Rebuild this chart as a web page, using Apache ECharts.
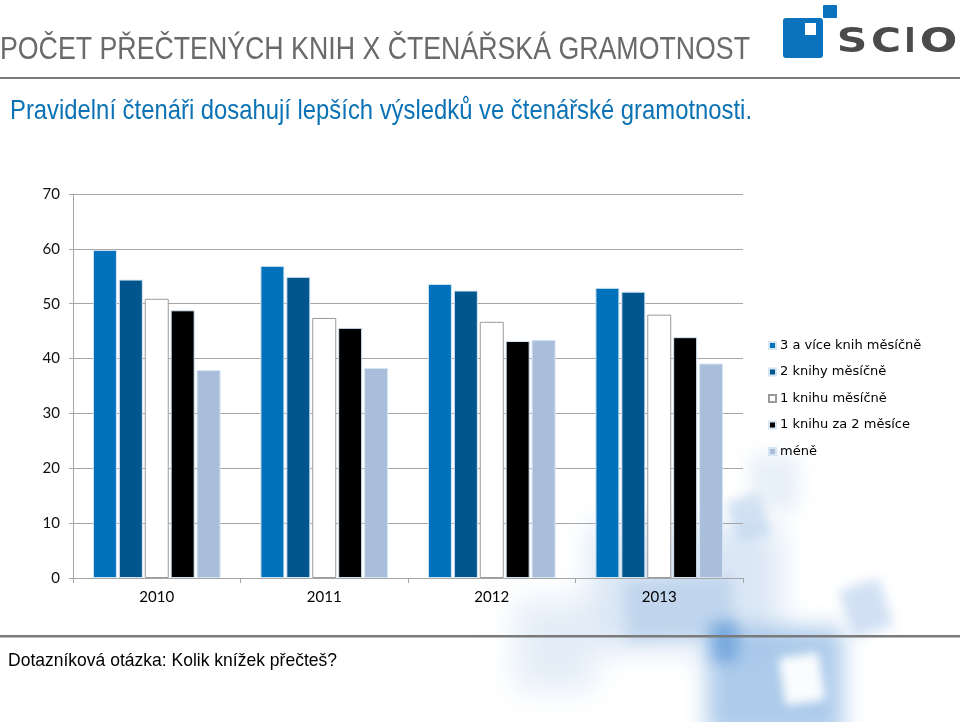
<!DOCTYPE html>
<html>
<head>
<meta charset="utf-8">
<script src="https://cdn.jsdelivr.net/npm/echarts@6/dist/echarts.min.js"></script>
<style>
html,body{margin:0;padding:0;background:#fff;}
#c{width:960px;height:722px;}
</style>
</head>
<body>
<div id="c"></div>
<script>
// ---- data ----
var years = ['2010', '2011', '2012', '2013'];
var seriesNames = ['3 a více knih měsíčně', '2 knihy měsíčně', '1 knihu měsíčně', '1 knihu za 2 měsíce', 'méně'];
var s3plus = [59.8, 56.9, 53.6, 52.9];
var s2 = [54.4, 54.9, 52.4, 52.2];
var s1 = [50.9, 47.4, 46.7, 48.0];
var sHalf = [48.8, 45.6, 43.2, 43.9];
var sLess = [37.9, 38.3, 43.4, 39.1];
var yTicks = [0, 10, 20, 30, 40, 50, 60, 70];

var titleText = 'POČET PŘEČTENÝCH KNIH X ČTENÁŘSKÁ GRAMOTNOST';
var subtitleText = 'Pravidelní čtenáři dosahují lepších výsledků ve čtenářské gramotnosti.';
var footerText = 'Dotazníková otázka: Kolik knížek přečteš?';

// ---- helpers ----
var mctx = document.createElement('canvas').getContext('2d');
function fitScale(text, font, width) {
  mctx.font = font;
  var w = mctx.measureText(text).width;
  return w > 0 ? width / w : 1;
}

var chart = echarts.init(document.getElementById('c'), null, {renderer: 'canvas'});

var colors = ['#0072bb', '#00568d', '#ffffff', '#000000', '#a9bedb'];
var borders = ['#d6e6f3', '#d6e6f3', '#9a9a9a', '#d6e6f3', '#d6e6f3'];
var dataSets = [s3plus, s2, s1, sHalf, sLess];

var series = dataSets.map(function (d, i) {
  return {
    name: seriesNames[i],
    type: 'bar',
    data: d,
    barWidth: 24,
    barGap: '8%',
    itemStyle: {color: colors[i], borderColor: borders[i], borderWidth: 1},
    emphasis: {disabled: true}
  };
});

var tFont = '31px "Liberation Sans", Arial, sans-serif';
var sFont = '28px "Liberation Sans", Arial, sans-serif';
var fFont = '19px "Liberation Sans", Arial, sans-serif';
var tScale = fitScale(titleText, tFont, 750);
var sScale = fitScale(subtitleText, sFont, 742);
var fScale = fitScale(footerText, fFont, 329);

// blurred soft shape: the shape itself is drawn off-canvas, only its blurred shadow shows
var OFF = 3000;
function soft(x, y, w, h, color, blur, rot) {
  return {
    type: 'rect', z: -10, silent: true,
    x: x + w / 2 - OFF, y: y + h / 2,
    rotation: rot || 0,
    shape: {x: -w / 2, y: -h / 2, width: w, height: h, r: 4},
    style: {fill: '#000', shadowBlur: blur, shadowColor: color, shadowOffsetX: OFF, shadowOffsetY: 0}
  };
}

var graphics = [
  // watermark shapes
  soft(515, 600, 80, 90, 'rgba(205,222,240,0.55)', 30),
  soft(590, 525, 190, 125, 'rgba(195,215,238,0.6)', 30),
  soft(625, 578, 108, 62, 'rgba(175,202,232,0.6)', 14, 0.05),
  soft(707, 627, 136, 110, 'rgba(145,185,228,0.75)', 22),
  soft(712, 622, 26, 40, 'rgba(90,150,215,0.6)', 14),
  soft(782, 655, 40, 48, 'rgba(255,255,255,0.95)', 10, 0.15),
  soft(732, 496, 34, 44, 'rgba(190,212,238,0.65)', 10, 0.3),
  soft(750, 455, 48, 55, 'rgba(210,225,242,0.5)', 18),
  soft(845, 583, 42, 50, 'rgba(185,208,236,0.65)', 12, 0.3),
  // title
  {type: 'text', x: 0, y: 50, scaleX: tScale, silent: true,
   style: {text: titleText, x: 0, y: 0, font: tFont, fill: '#6a6a6a', verticalAlign: 'middle'}},
  {type: 'rect', silent: true, shape: {x: 0, y: 77, width: 960, height: 2}, style: {fill: '#7a7a7a'}},
  {type: 'text', x: 10, y: 111, scaleX: sScale, silent: true,
   style: {text: subtitleText, x: 0, y: 0, font: sFont, fill: '#0b72b5', verticalAlign: 'middle'}},
  // bottom
  {type: 'rect', silent: true, shape: {x: 0, y: 635, width: 960, height: 2.5}, style: {fill: '#7a7a7a'}},
  {type: 'text', x: 8, y: 661, scaleX: fScale, silent: true,
   style: {text: footerText, x: 0, y: 0, font: fFont, fill: '#000', verticalAlign: 'middle'}},
  // logo
  {type: 'rect', silent: true, shape: {x: 783, y: 18, width: 40, height: 40, r: 3}, style: {fill: '#0b72bd'}},
  {type: 'rect', silent: true, shape: {x: 805, y: 23, width: 11, height: 12}, style: {fill: '#ffffff'}},
  {type: 'rect', silent: true, shape: {x: 823, y: 5, width: 14, height: 13, r: 1}, style: {fill: '#0b72bd'}},
  {type: 'text', x: 852, y: 43, scaleX: 1.25, silent: true,
   style: {text: 'S', x: 0, y: 0, font: 'bold 34px "DejaVu Sans", sans-serif', fill: '#4b4b4b', align: 'center', verticalAlign: 'middle'}},
  {type: 'text', x: 886, y: 43, scaleX: 1.2, silent: true,
   style: {text: 'C', x: 0, y: 0, font: 'bold 34px "DejaVu Sans", sans-serif', fill: '#4b4b4b', align: 'center', verticalAlign: 'middle'}},
  {type: 'text', x: 910, y: 43, scaleX: 0.9, silent: true,
   style: {text: 'I', x: 0, y: 0, font: 'bold 34px "DejaVu Sans", sans-serif', fill: '#4b4b4b', align: 'center', verticalAlign: 'middle'}},
  {type: 'text', x: 938.5, y: 43, scaleX: 1.3, silent: true,
   style: {text: 'O', x: 0, y: 0, font: 'bold 34px "DejaVu Sans", sans-serif', fill: '#4b4b4b', align: 'center', verticalAlign: 'middle'}}
];

chart.setOption({
  animation: false,
  backgroundColor: 'transparent',
  grid: {left: 73, right: 217, top: 194, bottom: 144, containLabel: false},
  legend: {
    orient: 'vertical',
    left: 768, top: 339, padding: 0,
    icon: 'rect', itemWidth: 7, itemHeight: 7, itemGap: 13.5,
    selectedMode: false,
    textStyle: {fontFamily: '"DejaVu Sans", sans-serif', fontSize: 13, color: '#000', padding: [0, 0, 0, -1]},
    data: seriesNames
  },
  xAxis: {
    type: 'category',
    data: years,
    axisLine: {lineStyle: {color: '#a6a6a6', width: 1}},
    axisTick: {show: true, length: 5, lineStyle: {color: '#a6a6a6'}},
    axisLabel: {fontFamily: 'Lato, sans-serif', fontSize: 15, color: '#000', margin: 12}
  },
  yAxis: {
    type: 'value',
    min: yTicks[0], max: yTicks[yTicks.length - 1], interval: 10,
    axisLine: {show: true, lineStyle: {color: '#a6a6a6', width: 1}},
    axisTick: {show: true, length: 4, lineStyle: {color: '#a6a6a6'}},
    splitLine: {show: true, lineStyle: {color: '#a6a6a6', width: 1}},
    axisLabel: {fontFamily: 'Lato, sans-serif', fontSize: 15, color: '#111', margin: 13}
  },
  graphic: graphics,
  series: series
});
</script>
</body>
</html>
